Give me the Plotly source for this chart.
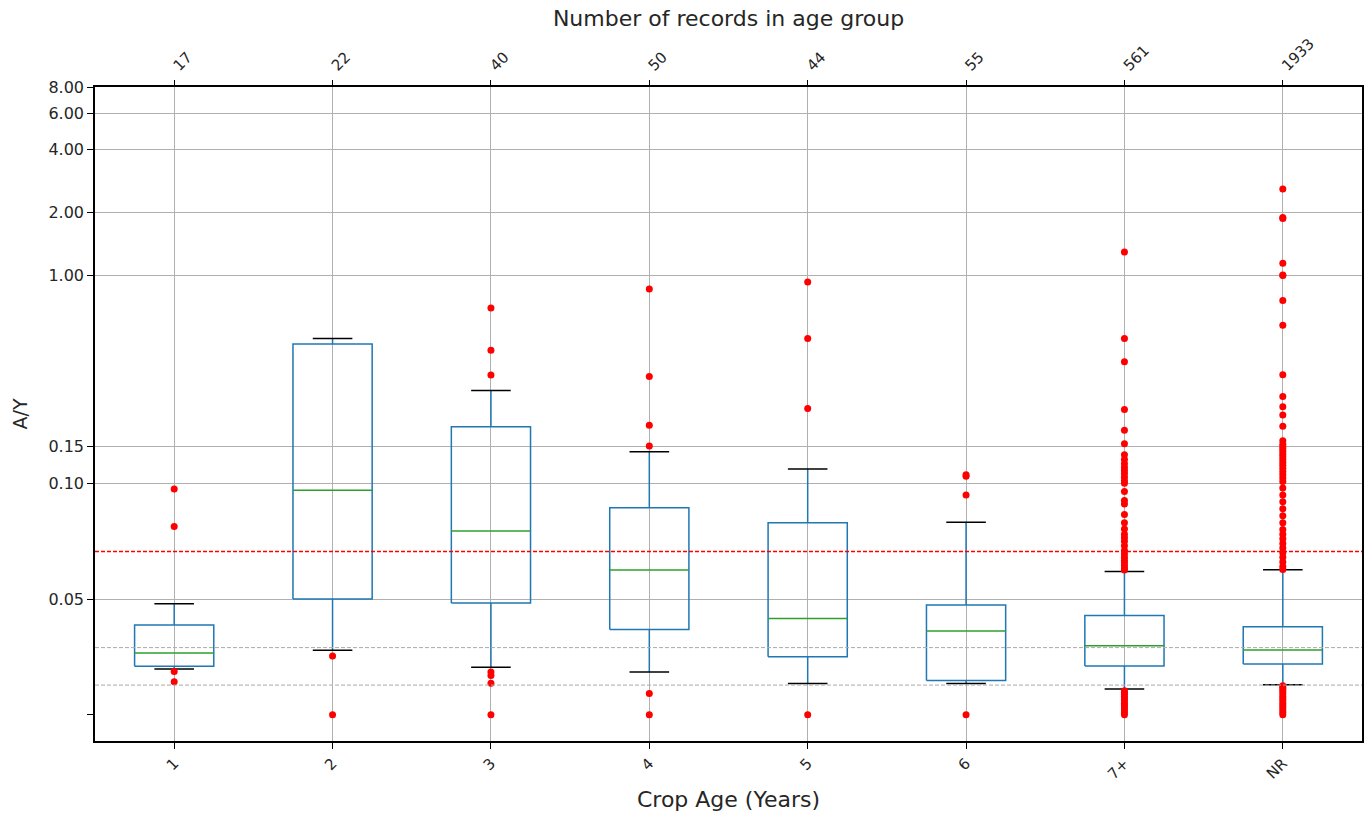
import numpy as np
import plotly.graph_objects as go

# ---------------- data ----------------
categories = ["1", "2", "3", "4", "5", "6", "7+", "NR"]
counts = [17, 22, 40, 50, 44, 55, 561, 1933]

whisker_low = [0.0198, 0.0278, 0.0205, 0.0185, 0.0135, 0.0135, 0.0111, 0.0129]
q1 = [0.0209, 0.0500, 0.0483, 0.0368, 0.0250, 0.0148, 0.0211, 0.0219]
medians = [0.0267, 0.0970, 0.0794, 0.0625, 0.0416, 0.0362, 0.0298, 0.0280]
q3 = [0.0388, 0.4660, 0.1870, 0.0894, 0.0830, 0.0474, 0.0429, 0.0380]
whisker_high = [0.0480, 0.4960, 0.2790, 0.1416, 0.1170, 0.0832, 0.0619, 0.0626]

outliers_1 = [0.0975, 0.0813, 0.0187, 0.0142]
outliers_2 = [0.0254, 0.0]
outliers_3 = [0.695, 0.436, 0.331, 0.0184, 0.0169, 0.0136, 0.0]
outliers_4 = [0.857, 0.326, 0.190, 0.151, 0.0092, 0.0]
outliers_5 = [0.926, 0.496, 0.229, 0.0]
outliers_6 = [0.110, 0.108, 0.095, 0.0]
outliers_7 = [1.29, 0.496, 0.383, 0.226, 0.180, 0.155, 0.137, 0.130, 0.124,
              0.119, 0.115, 0.111, 0.107, 0.103, 0.100, 0.0965, 0.0926,
              0.0911, 0.0865, 0.0830, 0.0803, 0.0780, 0.0765, 0.0750, 0.0730,
              0.0710, 0.0695, 0.0680, 0.0668, 0.0657, 0.0645, 0.0634, 0.0625,
              0.0103, 0.0095, 0.0088, 0.0080, 0.0070, 0.0060, 0.0050, 0.0040,
              0.0030, 0.0020, 0.0010, 0.0]
outliers_8 = [2.59, 1.89, 1.87, 1.14, 1.00, 0.995, 0.754, 0.574, 0.332,
              0.261, 0.233, 0.213, 0.188, 0.160, 0.154, 0.150, 0.146, 0.142,
              0.138, 0.134, 0.130, 0.126, 0.122, 0.118, 0.114, 0.110, 0.106,
              0.102, 0.098, 0.095, 0.092, 0.089, 0.086, 0.083, 0.080, 0.078,
              0.076, 0.074, 0.072, 0.070, 0.068, 0.066, 0.064, 0.0628,
              0.0125, 0.0118, 0.0110, 0.0100, 0.0090, 0.0080, 0.0070, 0.0060,
              0.0050, 0.0040, 0.0030, 0.0020, 0.0010, 0.0]
outliers = [outliers_1, outliers_2, outliers_3, outliers_4,
            outliers_5, outliers_6, outliers_7, outliers_8]

ref_red = [0.0705]
ref_grey = [0.029, 0.0128]

y_ticks = [0.05, 0.10, 0.15, 1.00, 2.00, 4.00, 6.00, 8.00]
y_tick_labels = ["0.05", "0.10", "0.15", "1.00", "2.00", "4.00", "6.00", "8.00"]

# ---------------- symlog scale (linthresh 0.1, linscale 1) ----------------
LINTHRESH = 0.1
LINSCALE_ADJ = 1.0 / (1.0 - 1.0 / 10.0)


def symlog(v):
    v = np.asarray(v, dtype=float)
    a = np.abs(v)
    lin = v / LINTHRESH * LINSCALE_ADJ
    lg = np.sign(v) * (LINSCALE_ADJ + np.log10(np.maximum(a, 1e-12) / LINTHRESH))
    return np.where(a <= LINTHRESH, lin, lg)


positions = np.arange(1, len(categories) + 1)
BOX_HALF = 0.25
CAP_HALF = 0.125

box_x, box_y = [], []
wh_x, wh_y = [], []
cap_x, cap_y = [], []
med_x, med_y = [], []
out_x, out_y = [], []
for i, p in enumerate(positions):
    yq1, yq3, ymed = symlog(q1[i]), symlog(q3[i]), symlog(medians[i])
    ylo, yhi = symlog(whisker_low[i]), symlog(whisker_high[i])
    box_x += [p - BOX_HALF, p + BOX_HALF, p + BOX_HALF, p - BOX_HALF, p - BOX_HALF, None]
    box_y += [yq1, yq1, yq3, yq3, yq1, None]
    wh_x += [p, p, None, p, p, None]
    wh_y += [yq1, ylo, None, yq3, yhi, None]
    cap_x += [p - CAP_HALF, p + CAP_HALF, None, p - CAP_HALF, p + CAP_HALF, None]
    cap_y += [ylo, ylo, None, yhi, yhi, None]
    med_x += [p - BOX_HALF, p + BOX_HALF, None]
    med_y += [ymed, ymed, None]
    out_x += [p] * len(outliers[i])
    out_y += list(symlog(outliers[i]))

BLUE = "#1f77b4"
fig = go.Figure()
fig.add_trace(go.Scatter(x=wh_x, y=wh_y, mode="lines",
                         line=dict(color=BLUE, width=1.5), hoverinfo="skip"))
fig.add_trace(go.Scatter(x=box_x, y=box_y, mode="lines",
                         line=dict(color=BLUE, width=1.5), hoverinfo="skip"))
fig.add_trace(go.Scatter(x=cap_x, y=cap_y, mode="lines",
                         line=dict(color="black", width=1.5), hoverinfo="skip"))
fig.add_trace(go.Scatter(x=med_x, y=med_y, mode="lines",
                         line=dict(color="#2ca02c", width=1.5), hoverinfo="skip"))
fig.add_trace(go.Scatter(x=out_x, y=out_y, mode="markers",
                         marker=dict(color="red", size=7, line=dict(width=0))))
# invisible trace to activate the top axis
fig.add_trace(go.Scatter(x=[positions[0], positions[-1]], y=[0, 0], xaxis="x2",
                         mode="markers", marker=dict(opacity=0), hoverinfo="skip"))

for v in ref_red:
    fig.add_shape(type="line", xref="paper", x0=0, x1=1, yref="y",
                  y0=float(symlog(v)), y1=float(symlog(v)),
                  line=dict(color="#ff0000", width=1.5, dash="4px,2px"))
for v in ref_grey:
    fig.add_shape(type="line", xref="paper", x0=0, x1=1, yref="y",
                  y0=float(symlog(v)), y1=float(symlog(v)),
                  line=dict(color="#aaaaaa", width=1, dash="4px,2px"))

FONT = "DejaVu Sans"
GRID = "#b0b0b0"
y_top = float(symlog(8.0))
y_bot = -0.1263

fig.update_layout(
    width=1367, height=814,
    margin=dict(l=95, r=5, t=87, b=73, autoexpand=False),
    plot_bgcolor="white", paper_bgcolor="white",
    showlegend=False,
    font=dict(family=FONT, color="#262626", size=16),
    xaxis=dict(
        range=[0.5, len(categories) + 0.5], automargin=False,
        tickmode="array", tickvals=positions, ticktext=categories,
        tickangle=-45, ticks="outside", ticklen=6, tickcolor="black",
        showgrid=True, gridcolor=GRID, gridwidth=1,
        showline=True, linecolor="black", linewidth=1.5, mirror=True,
        zeroline=False, tickfont=dict(size=15),
        title=dict(text="Crop Age (Years)", font=dict(size=22), standoff=10),
    ),
    xaxis2=dict(
        overlaying="x", side="top", anchor="y", automargin=False,
        range=[0.5, len(categories) + 0.5],
        tickmode="array", tickvals=positions, ticktext=[str(c) for c in counts],
        tickangle=-45, ticks="outside", ticklen=6, tickcolor="black",
        showgrid=False, zeroline=False, tickfont=dict(size=15),
        title=dict(text="Number of records in age group", font=dict(size=22), standoff=2),
    ),
    yaxis=dict(
        range=[y_bot, y_top], automargin=False,
        tickmode="array", tickvals=list(symlog(y_ticks)), ticktext=y_tick_labels,
        ticks="outside", ticklen=6, tickcolor="black",
        showgrid=True, gridcolor=GRID, gridwidth=1,
        showline=True, linecolor="black", linewidth=1.5, mirror=True,
        zeroline=False, tickfont=dict(size=16),
        minor=dict(tickmode="array", tickvals=[0.0], ticks="outside",
                   ticklen=6, tickcolor="black", showgrid=False),
        title=dict(text="A/Y", font=dict(size=19), standoff=16),
    ),
)

fig.write_html("out.html", config={"displayModeBar": False},
               post_script="document.body.style.margin='0';document.body.style.padding='0';")
